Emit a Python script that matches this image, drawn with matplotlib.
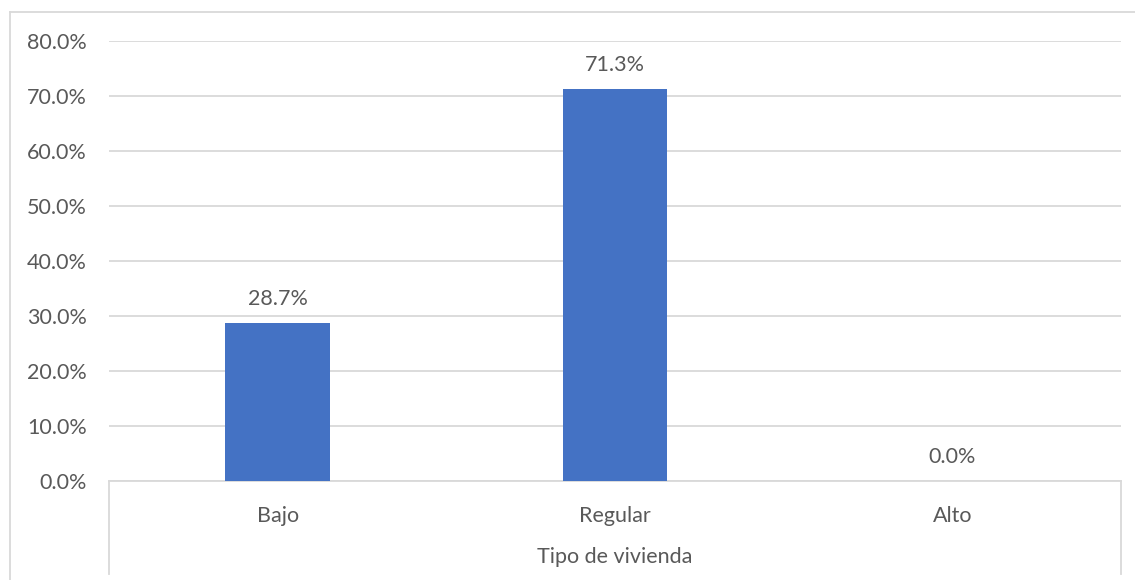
import numpy as np
import matplotlib.pyplot as plt
from matplotlib.lines import Line2D

categorias = ["Bajo", "Regular", "Alto"]
porcentajes = [28.7, 71.3, 0.0]
ticks_y = [0, 10, 20, 30, 40, 50, 60, 70, 80]
titulo_x = "Tipo de vivienda"

W, H = 1135, 580
plt.rcParams['font.family'] = ['Lato', 'DejaVu Sans']
gris = '#595959'
linea = '#d9d9d9'
fs = 15.5

fig = plt.figure(figsize=(W / 100, H / 100), dpi=100)

def px(x0, y0, x1, y1):
    # rect in pixel coords (top-left origin) -> figure fraction
    return [x0 / W, 1 - y1 / H, (x1 - x0) / W, (y1 - y0) / H]

ax = fig.add_axes(px(109, 41, 1121, 481))
x = np.arange(len(categorias))
ax.bar(x, porcentajes, width=0.31, color='#4472C4', zorder=3)
ax.set_xlim(-0.5, len(categorias) - 0.5)
ax.set_ylim(0, 80)
ax.set_yticks(ticks_y)
ax.set_yticklabels([f"{t:.1f}%" for t in ticks_y], fontsize=fs, color=gris)
ax.set_xticks(x)
ax.set_xticklabels(categorias, fontsize=fs, color=gris)
ax.tick_params(axis='both', length=0)
ax.tick_params(axis='y', pad=16)
ax.tick_params(axis='x', pad=18)
ax.grid(axis='y', color=linea, linewidth=1.3, zorder=0)
for s in ['top', 'right', 'left']:
    ax.spines[s].set_visible(False)
ax.spines['bottom'].set_color(linea)
ax.spines['bottom'].set_linewidth(1.3)

for xi, v in zip(x, porcentajes):
    ax.annotate(f"{v:.1f}%", (xi, v), xytext=(0, 10), textcoords='offset points',
                ha='center', va='bottom', fontsize=fs, color=gris)

fig.text(615 / W, 1 - 557 / H, titulo_x, ha='center', va='center', fontsize=fs, color=gris)

# marco exterior y caja de categorias
def seg(xa, ya, xb, yb, **kw):
    fig.add_artist(Line2D([xa / W, xb / W], [1 - ya / H, 1 - yb / H],
                          color=linea, linewidth=1.3, **kw))

seg(10, 12, 10, 580)
seg(10, 12, 1135, 12)
seg(109, 481, 109, 574)
seg(1121, 481, 1121, 574)

fig.savefig("out.png", dpi=100)
